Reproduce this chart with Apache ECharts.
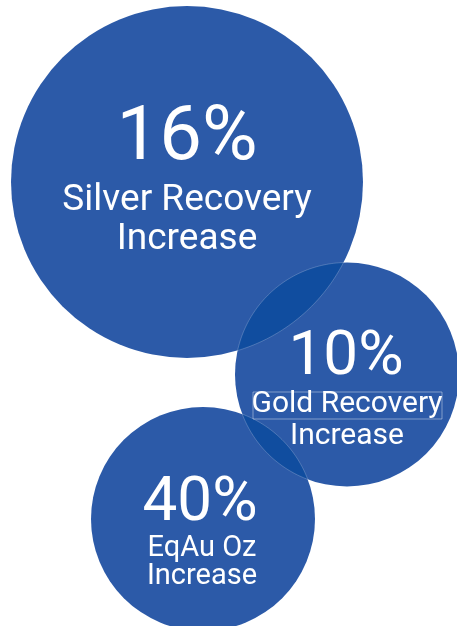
<!DOCTYPE html>
<html>
<head>
<meta charset="utf-8">
<script src="https://cdn.jsdelivr.net/npm/echarts@6/dist/echarts.min.js"></script>
<style>
html,body{margin:0;padding:0;background:#ffffff;}
#chart{width:457px;height:626px;}
</style>
</head>
<body>
<div id="chart"></div>
<script>
// ---- data ----
const percentLabels = ['16%', '10%', '40%'];
const captionLine1 = ['Silver Recovery', 'Gold Recovery', 'EqAu Oz'];
const captionLine2 = ['Increase', 'Increase', 'Increase'];
// bubble layout in axis units (centre x, centre y, radius)
const bubbleX = [187, 347, 203];
const bubbleY = [182, 374.5, 519];
const bubbleR = [176, 112, 112];
// overlapping pairs
const overlapPairs = [[0, 1], [1, 2]];

// ---- styles ----
const MAIN = '#2c5aa8';
const LENS = '#104d9f';
const textStyles = [
  {big: 76, small: 37, dy: [-42, 19, 58], dx: [0, 0, 0]},
  {big: 62, small: 30, dy: [-16, 30, 61.5], dx: [-1, 0, 0]},
  {big: 62, small: 29, dy: [-14.5, 30, 58], dx: [-3, -1, -1]}
];

const chart = echarts.init(document.getElementById('chart'), null, {renderer: 'canvas'});

const bubbleData = bubbleX.map((x, i) => [x, bubbleY[i], bubbleR[i], i]);

function pix(api, i) {
  const c = api.coord([bubbleX[i], bubbleY[i]]);
  const r = api.size([bubbleR[i], 0])[0];
  return {x: c[0], y: c[1], r: r};
}

const option = {
  animation: false,
  grid: {left: 0, right: 0, top: 0, bottom: 0},
  xAxis: {type: 'value', min: 0, max: 457, show: false},
  yAxis: {type: 'value', min: 0, max: 626, inverse: true, show: false},
  series: [
    {
      type: 'custom',
      coordinateSystem: 'cartesian2d',
      data: bubbleData,
      z: 1,
      renderItem: function (params, api) {
        const i = api.value(3);
        const p = pix(api, i);
        return {
          type: 'circle',
          shape: {cx: p.x, cy: p.y, r: p.r},
          style: {fill: MAIN}
        };
      }
    },
    {
      type: 'custom',
      coordinateSystem: 'cartesian2d',
      data: overlapPairs.map(p => [bubbleX[p[0]], bubbleY[p[0]], p[0], p[1]]),
      z: 2,
      renderItem: function (params, api) {
        const a = pix(api, api.value(2));
        const b = pix(api, api.value(3));
        const dx = b.x - a.x, dy = b.y - a.y;
        const d = Math.sqrt(dx * dx + dy * dy);
        const th = Math.atan2(dy, dx);
        const al = Math.acos((d * d + a.r * a.r - b.r * b.r) / (2 * d * a.r));
        const ph = Math.atan2(-dy, -dx);
        const be = Math.acos((d * d + b.r * b.r - a.r * a.r) / (2 * d * b.r));
        const pts = [];
        const N = 60;
        for (let k = 0; k <= N; k++) {
          const t = th - al + 2 * al * k / N;
          pts.push([a.x + a.r * Math.cos(t), a.y + a.r * Math.sin(t)]);
        }
        for (let k = 0; k <= N; k++) {
          const t = ph - be + 2 * be * k / N;
          pts.push([b.x + b.r * Math.cos(t), b.y + b.r * Math.sin(t)]);
        }
        return {
          type: 'polygon',
          shape: {points: pts},
          style: {fill: LENS, stroke: 'rgba(255,255,255,0.35)', lineWidth: 0.6}
        };
      }
    },
    {
      type: 'custom',
      coordinateSystem: 'cartesian2d',
      data: bubbleData,
      z: 3,
      renderItem: function (params, api) {
        const i = api.value(3);
        const p = pix(api, i);
        const s = textStyles[i];
        const lines = [percentLabels[i], captionLine1[i], captionLine2[i]];
        const children = lines.map((t, k) => ({
          type: 'text',
          style: {
            text: t,
            x: p.x + s.dx[k],
            y: p.y + s.dy[k],
            fill: '#ffffff',
            font: 'normal ' + (k === 0 ? s.big : s.small) + 'px Roboto, "Noto Sans", sans-serif',
            align: 'center',
            verticalAlign: 'middle'
          }
        }));
        if (i === 1) {
          children.push({
            type: 'rect',
            shape: {x: p.x - 94, y: p.y + 17.5, width: 189, height: 27},
            style: {fill: 'none', stroke: 'rgba(255,255,255,0.4)', lineWidth: 1}
          });
        }
        return {type: 'group', children: children};
      }
    }
  ]
};
chart.setOption(option);
</script>
</body>
</html>
